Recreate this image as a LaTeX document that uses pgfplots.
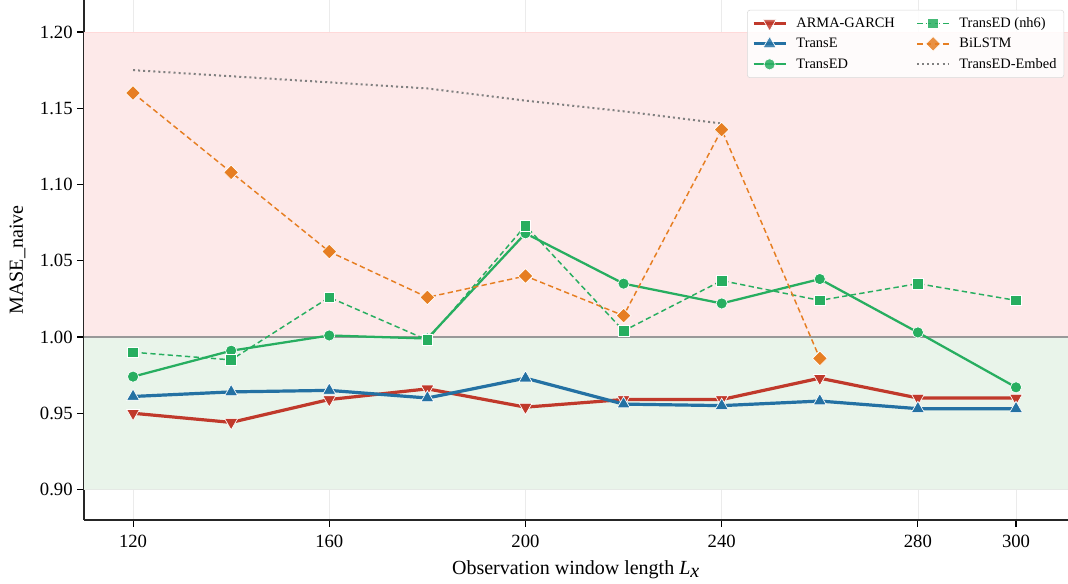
\documentclass[border=0pt]{standalone}
\usepackage{fontspec}
\setmainfont{Liberation Serif}
\usepackage{pgfplots}
\pgfplotsset{compat=1.18}
\definecolor{cRed}{HTML}{C0392B}
\definecolor{cBlue}{HTML}{2471A3}
\definecolor{cGreen}{HTML}{27AE60}
\definecolor{cOrange}{HTML}{E67E22}
\definecolor{cGray}{HTML}{808080}
\definecolor{bandRed}{HTML}{FDE9E9}
\definecolor{bandGreen}{HTML}{E9F4EA}
\begin{document}
\begin{tikzpicture}
\useasboundingbox (-63pt,-48pt) rectangle (738pt,390pt);
\begin{axis}[
  scale only axis,
  width=738pt, height=390pt,
  xmin=110, xmax=310.6,
  ymin=0.880, ymax=1.221,
  axis lines=left,
  axis line style={-, line width=0.9pt, black!85},
  xtick={120,160,200,240,280,300},
  ytick={0.90,0.95,1.00,1.05,1.10,1.15,1.20},
  yticklabel style={/pgf/number format/fixed, /pgf/number format/fixed zerofill, /pgf/number format/precision=2},
  /pgf/number format/assume math mode=true,
  tick align=outside,
  major tick length=5pt,
  tick style={black, line width=0.8pt},
  ticklabel style={font=\fontsize{14}{16}\selectfont},
  xticklabel style={yshift=-3pt},
  grid=major,
  grid style={black!8, line width=0.5pt},
  xlabel={Observation window length \textit{L}$_{\textit{x}}$},
  ylabel={MASE\_naive},
  label style={font=\fontsize{15}{17}\selectfont},
  xlabel style={yshift=-3pt},
  ylabel style={yshift=4pt},
  legend columns=3,
  transpose legend,
  legend style={at={(0.996,0.981)}, anchor=north east, font=\fontsize{10.8}{12}\selectfont,
    draw=black!15, fill=white, fill opacity=0.85, text opacity=1, rounded corners=2pt,
    /tikz/every odd column/.append style={column sep=5pt},
    /tikz/every even column/.append style={column sep=14pt},
    row sep=2.5pt, inner sep=3.5pt},
  legend cell align=left,
  legend image code/.code={\draw[mark repeat=2,mark phase=2,#1] plot coordinates {(0cm,0cm) (0.42cm,0cm) (0.84cm,0cm)};},
]
\addplot[draw=none, fill=bandRed, forget plot] coordinates {(110,1.0) (310.6,1.0) (310.6,1.2) (110,1.2)} -- cycle;
\addplot[draw=none, fill=bandGreen, forget plot] coordinates {(110,0.9) (310.6,0.9) (310.6,1.0) (110,1.0)} -- cycle;
\addplot[draw=red!15, line width=0.6pt, forget plot] coordinates {(110,1.2) (310.6,1.2)};
\addplot[draw=green!15!black!10, line width=0.6pt, forget plot] coordinates {(110,0.9) (310.6,0.9)};
\addplot[draw=black!40, line width=1.6pt, forget plot] coordinates {(110,1.0) (310.6,1.0)};

\addplot[cRed, line width=2.4pt, mark=triangle*, mark size=5.6pt, mark options={solid, draw=white, line width=0.5pt, rotate=180, fill=cRed}] coordinates {
(120,0.950) (140,0.944) (160,0.959) (180,0.966) (200,0.954) (220,0.959) (240,0.959) (260,0.973) (280,0.960) (300,0.960)};
\addlegendentry{ARMA-GARCH}
\addplot[cBlue, line width=2.4pt, mark=triangle*, mark size=5.6pt, mark options={solid, draw=white, line width=0.5pt, fill=cBlue}] coordinates {
(120,0.961) (140,0.964) (160,0.965) (180,0.960) (200,0.973) (220,0.956) (240,0.955) (260,0.958) (280,0.953) (300,0.953)};
\addlegendentry{TransE}
\addplot[cGreen, line width=1.7pt, mark=*, mark size=4.2pt, mark options={solid, draw=white, line width=0.5pt, fill=cGreen}] coordinates {
(120,0.974) (140,0.991) (160,1.001) (180,0.999) (200,1.068) (220,1.035) (240,1.022) (260,1.038) (280,1.003) (300,0.967)};
\addlegendentry{TransED}
\addplot[cGreen, line width=1.1pt, dash pattern=on 4pt off 2.5pt, mark=square*, mark size=4pt, mark options={solid, draw=white, line width=0.5pt, fill=cGreen}] coordinates {
(120,0.990) (140,0.985) (160,1.026) (180,0.998) (200,1.073) (220,1.004) (240,1.037) (260,1.024) (280,1.035) (300,1.024)};
\addlegendentry{TransED (nh6)}
\addplot[cOrange, line width=1.1pt, dash pattern=on 4pt off 2.5pt, mark=square*, mark size=3.9pt, mark options={solid, draw=white, line width=0.5pt, rotate=45, fill=cOrange}] coordinates {
(120,1.160) (140,1.108) (160,1.056) (180,1.026) (200,1.040) (220,1.014) (240,1.136) (260,0.986)};
\addlegendentry{BiLSTM}
\addplot[cGray, line width=1.5pt, dash pattern=on 1.5pt off 2.3pt, no marks] coordinates {
(120,1.175) (140,1.171) (160,1.167) (180,1.163) (200,1.155) (220,1.148) (240,1.140)};
\addlegendentry{TransED-Embed}
\end{axis}
\end{tikzpicture}
\end{document}
